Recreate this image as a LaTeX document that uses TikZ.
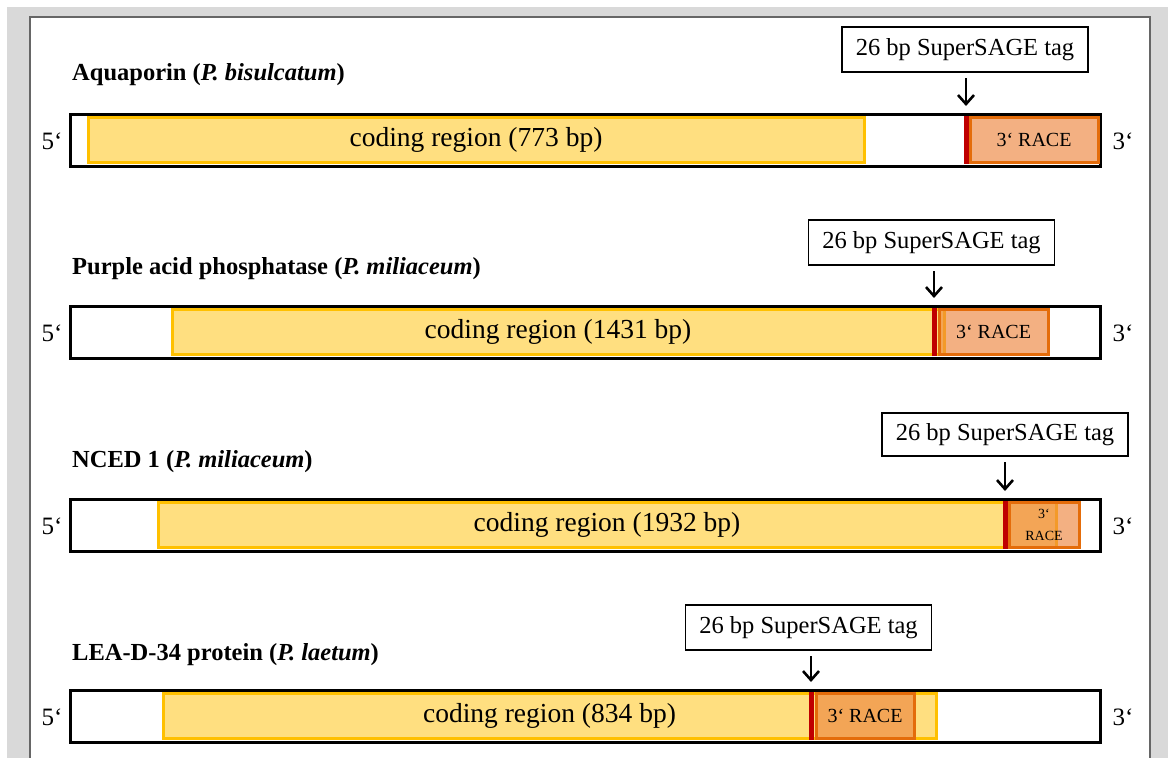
\documentclass[tikz,border=0pt]{standalone}
\usepackage{fontspec}
\setmainfont{Liberation Serif}
\usetikzlibrary{arrows.meta}
\definecolor{cdsfill}{HTML}{FFDF80}
\definecolor{cdsedge}{HTML}{FFC000}
\definecolor{racefill}{RGB}{238,135,64}
\definecolor{raceedge}{HTML}{E46C0A}
\definecolor{tagred}{HTML}{C00000}
\definecolor{pagegray}{HTML}{D9D9D9}
\tikzset{
  gene/.style={draw=black, line width=3pt, fill=white, minimum height=52pt, inner sep=0pt, outer sep=0pt, anchor=west},
  cds/.style={draw=cdsedge, fill=cdsfill, line width=3pt, minimum height=45pt, inner sep=0pt, outer sep=0pt, anchor=west, font=\fontsize{27.5}{32}\selectfont},
  race/.style={draw=raceedge, fill=racefill, fill opacity=0.65, draw opacity=1, text opacity=1, line width=3pt, minimum height=45pt, inner sep=0pt, outer sep=0pt, anchor=west, align=center, font=\fontsize{20}{24}\selectfont},
  tagbox/.style={draw=black, line width=1.5pt, fill=white, minimum height=45pt, minimum width=246pt, inner sep=0pt, outer sep=0pt, font=\fontsize{24.5}{28}\selectfont},
  title/.style={anchor=west, inner sep=0pt, font=\bfseries\fontsize{24.5}{28}\selectfont},
  prime/.style={inner sep=0pt, font=\fontsize{25}{30}\selectfont},
  site/.style={fill=tagred, minimum width=5pt, minimum height=48pt, inner sep=0pt, outer sep=0pt},
  pointer/.style={line width=2.2pt, -{Straight Barb[length=9pt,width=16pt,line width=2.6pt]}}
}

\begin{document}
\begin{tikzpicture}[x=1pt,y=-1pt]
  \useasboundingbox (0,0) rectangle (1168,758);
  \fill[white] (0,0) rectangle (1168,758);
  \fill[pagegray] (7,7) rectangle (1168,758);
  \filldraw[draw=gray!80!black, fill=white, line width=1.2pt] (30,758) -- (30,17) -- (1150,17) -- (1150,758);

  % Aquaporin
  \node[title] (name1) at (72,75) {Aquaporin (\textit{P. bisulcatum})};
  \node[gene, minimum width=1030pt] (bar1) at (70,140) {};
  \node[cds, minimum width=776pt] (cds1) at (88,140) {coding region (773 bp)};
  \node[race, minimum width=128pt] (race1) at (970,140) {3‘ RACE};
  \node[site] (site1) at (966,140) {};
  \node[prime] (five1) at (52,141) {5‘};
  \node[prime] (three1) at (1123,141) {3‘};
  \node[tagbox] (tag1) at (965,49.5) {26 bp SuperSAGE tag};
  \draw[pointer] ([yshift=-6pt]tag1.south -| site1.north) -- ([yshift=10pt]site1.north);

  % Purple acid phosphatase
  \node[title] (name2) at (72,269) {Purple acid phosphatase (\textit{P. miliaceum})};
  \node[gene, minimum width=1030pt] (bar2) at (70,332) {};
  \node[cds, minimum width=772pt] (cds2) at (172,332) {coding region (1431 bp)};
  \node[race, minimum width=109pt] (race2) at (939,332) {3‘ RACE};
  \node[site] (site2) at (934,332) {};
  \node[prime] (five2) at (52,333) {5‘};
  \node[prime] (three2) at (1123,333) {3‘};
  \node[tagbox] (tag2) at (931.5,242.5) {26 bp SuperSAGE tag};
  \draw[pointer] ([yshift=-6pt]tag2.south -| site2.north) -- ([yshift=10pt]site2.north);

  % NCED 1
  \node[title] (name3) at (72,462) {NCED 1 (\textit{P. miliaceum})};
  \node[gene, minimum width=1030pt] (bar3) at (70,525) {};
  \node[cds, minimum width=898pt] (cds3) at (158,525) {coding region (1932 bp)};
  \node[race, minimum width=70pt, font=\fontsize{14}{22}\selectfont] (race3) at (1009,525) {3‘\\RACE};
  \node[site] (site3) at (1005,525) {};
  \node[prime] (five3) at (52,526) {5‘};
  \node[prime] (three3) at (1123,526) {3‘};
  \node[tagbox, minimum height=43pt] (tag3) at (1005,434.5) {26 bp SuperSAGE tag};
  \draw[pointer] ([yshift=-6pt]tag3.south -| site3.north) -- ([yshift=10pt]site3.north);

  % LEA-D-34
  \node[title] (name4) at (72,655) {LEA-D-34 protein (\textit{P. laetum})};
  \node[gene, minimum width=1030pt] (bar4) at (70,716) {};
  \node[cds, minimum width=773pt] (cds4) at (163,716) {coding region (834 bp)};
  \node[race, minimum width=98pt] (race4) at (816,716) {3‘ RACE};
  \node[site] (site4) at (811,716) {};
  \node[prime] (five4) at (52,717) {5‘};
  \node[prime] (three4) at (1123,717) {3‘};
  \node[tagbox] (tag4) at (808.5,627.5) {26 bp SuperSAGE tag};
  \draw[pointer] ([yshift=-6pt]tag4.south -| site4.north) -- ([yshift=10pt]site4.north);
\end{tikzpicture}
\end{document}
